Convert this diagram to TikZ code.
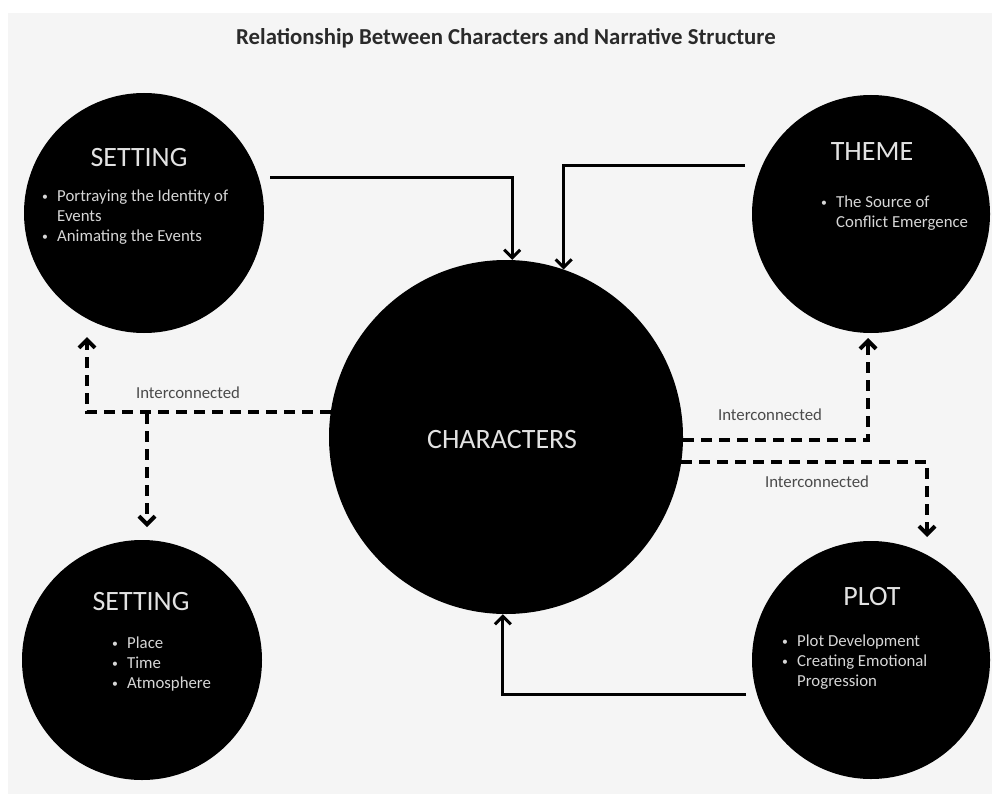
\documentclass[tikz,border=0pt]{standalone}
\usepackage{fontspec}
\setmainfont{Carlito}
\usetikzlibrary{arrows.meta}
\definecolor{bggray}{HTML}{F5F5F5}
\definecolor{headgray}{HTML}{E2E2E2}
\definecolor{bulgray}{HTML}{D6D6D6}
\definecolor{labgray}{HTML}{4A4A4A}
\definecolor{titlegray}{HTML}{2A2A2A}
\newcommand{\bul}{\makebox[15pt][l]{\raisebox{1pt}{\scalebox{0.7}{•}}}}
\newcommand{\ind}{\hspace*{15pt}}
\begin{document}
\begin{tikzpicture}[x=1pt,y=-1pt,
  bubble/.style={circle,fill=black,draw=none,inner sep=0pt,minimum size=#1},
  head/.style={text=headgray,font=\fontsize{28}{32}\selectfont,inner sep=0pt},
  bullets/.style={text=bulgray,font=\fontsize{16.8}{20}\selectfont,align=left,inner sep=0pt,anchor=west},
  solidconn/.style={line width=3pt,-{Straight Barb[length=8pt,width=16pt]}},
  dashconn/.style={line width=4pt,dash pattern=on 11pt off 7pt,-{Straight Barb[length=8pt,width=16pt]}},
  lab/.style={text=labgray,font=\fontsize{16.8}{18}\selectfont,inner sep=0pt}]
\useasboundingbox (0,0) rectangle (992,794);
\fill[white] (0,0) rectangle (992,794);
\fill[bggray] (8,13) rectangle (992,794);

\node[text=titlegray,font=\bfseries\fontsize{22.8}{25}\selectfont,inner sep=0pt] (title) at (506,38) {Relationship Between Characters and Narrative Structure};

% circles
\node[bubble=240pt] (set1) at (144,213) {};
\node[bubble=238pt] (theme) at (871,214) {};
\node[bubble=354pt] (chars) at (506,437) {};
\node[bubble=240pt] (set2) at (142,660) {};
\node[bubble=238pt] (plot) at (871,660) {};

% headers
\node[head] (set1h) at (139,158) {SETTING};
\node[head] (themeh) at (872,152) {THEME};
\node[head] (charsh) at (502,440) {CHARACTERS};
\node[head] (set2h) at (141,602) {SETTING};
\node[head] (ploth) at (872,597) {PLOT};

% bullets
\node[bullets] (set1b) at (42,217) {\bul Portraying the Identity of\\\ind Events\\\bul Animating the Events};
\node[bullets] (themeb) at (821,213) {\bul The Source of\\\ind Conflict Emergence};
\node[bullets] (set2b) at (112,664) {\bul Place\\\bul Time\\\bul Atmosphere};
\node[bullets] (plotb) at (782,662) {\bul Plot Development\\\bul Creating Emotional\\\ind Progression};

% solid connectors
\coordinate (c1) at (270,178);
\coordinate (c2) at (745,166);
\coordinate (c3) at (746,694);
\draw[solidconn] (c1) -| (chars.88.7);
\draw[solidconn] (c2) -| (chars.71.6);
\draw[solidconn] (c3) -| (chars.269);

% dashed connectors
\coordinate (d1) at (87,337);
\coordinate (d2) at (147,413);
\coordinate (d3) at (147,527);
\coordinate (d4) at (868,338);
\coordinate (d5) at (927,537);
\draw[dashconn] (chars.172.2) -| (d1);
\draw[dashconn] (d2) -- (d3);
\draw[dashconn] (chars.-1) -| (d4);
\draw[dashconn] (chars.-8.1) -| (d5);

% labels
\node[lab] (l1) at (188,393) {Interconnected};
\node[lab] (l2) at (770,415) {Interconnected};
\node[lab] (l3) at (817,482) {Interconnected};
\end{tikzpicture}
\end{document}
